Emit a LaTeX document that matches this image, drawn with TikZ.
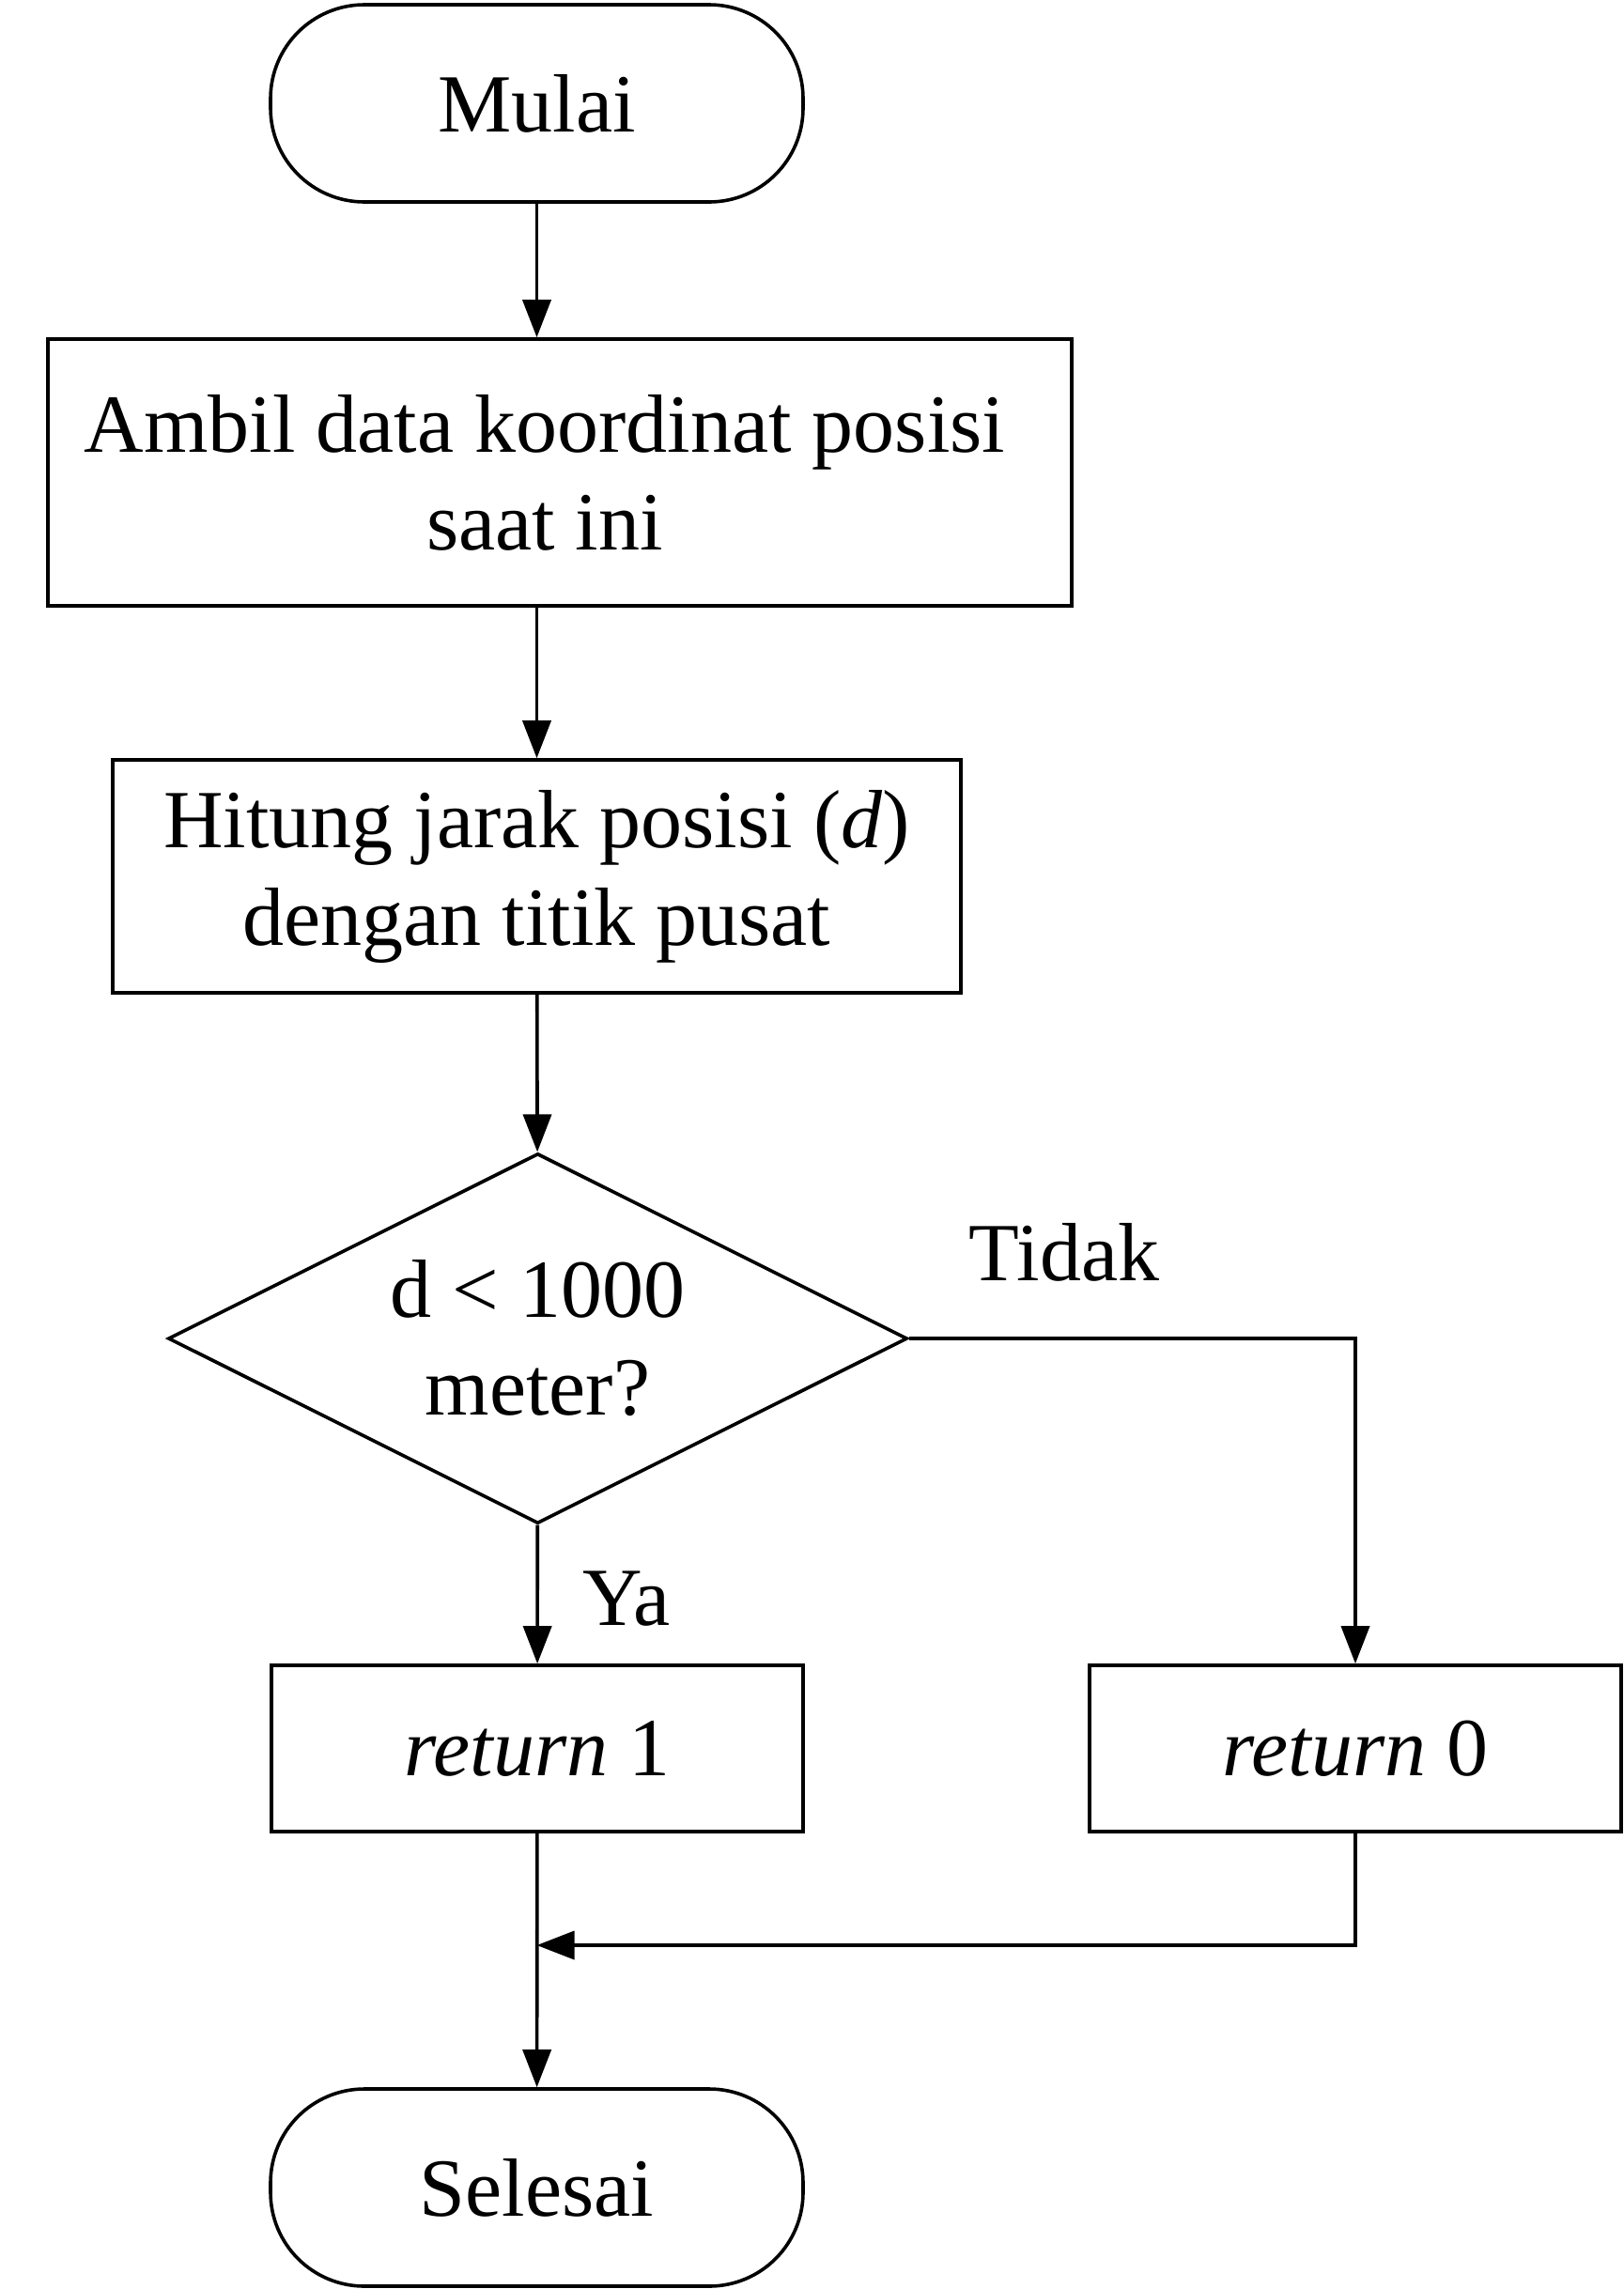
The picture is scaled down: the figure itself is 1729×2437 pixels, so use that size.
\documentclass[tikz,border=0pt]{standalone}
\usepackage{fontspec}
\setmainfont{Liberation Serif}
\usetikzlibrary{arrows.meta,shapes.geometric}

\tikzset{
  terminal/.style={draw, rounded corners=50pt, minimum width=283.5pt, minimum height=105pt},
  process/.style={draw, minimum height=88.5pt},
  decision/.style={draw, diamond, aspect=2, minimum width=393.5pt, minimum height=197pt}
}

\begin{document}
\begin{tikzpicture}
    [x=0.5pt, y=-0.5pt, line width=1.8pt,
     font=\fontsize{44}{52}\selectfont,
     every node/.append style={align=center, inner sep=0pt},
     >={Triangle[length=20pt, width=15pt]}]

    \useasboundingbox (0, 0) rectangle (1729, 2437);

    \node at (571.5,  110) (n0) [terminal] {Mulai};
    \node at (596,    503) (n1) [process, minimum width=545pt, minimum height=142pt]
      {Ambil data koordinat posisi\hspace*{16pt}\\saat ini\hspace*{16pt}};
    \node at (571.5,  933) (n2) [process, minimum width=451.5pt, minimum height=124pt]
      {Hitung jarak posisi (\textit{d})\\dengan titik pusat};
    \node at (572.5, 1425) (n3) [decision] {d < 1000\\meter?};

    \node at (572,   1861.5) (n4a) [process, minimum width=283pt] {\textit{return} 1};
    \node at (1443,  1861.5) (n4b) [process, minimum width=283pt] {\textit{return} 0};

    \node at (571.5, 2329) (n5) [terminal] {Selesai};

    \node at (1133, 1333) (lno) {Tidak};
    \node at (667,  1702) (lyes) {Ya};

    \coordinate (join) at (n5.north |- 0, 2071);

    \draw [->] (n0) -- (n0 |- n1.north);
    \draw [->] (n0 |- n1.south) -- (n0 |- n2.north);
    \draw [->] (n2) -- (n3);
    \draw [->] (n3) -- (n4a);
    \draw [->] (n3.east) -| (n4b.north);

    \draw [->] (n4b.south) |- (join);
    \draw [->] (n4a) -- (n5);

  \end{tikzpicture}
\end{document}
